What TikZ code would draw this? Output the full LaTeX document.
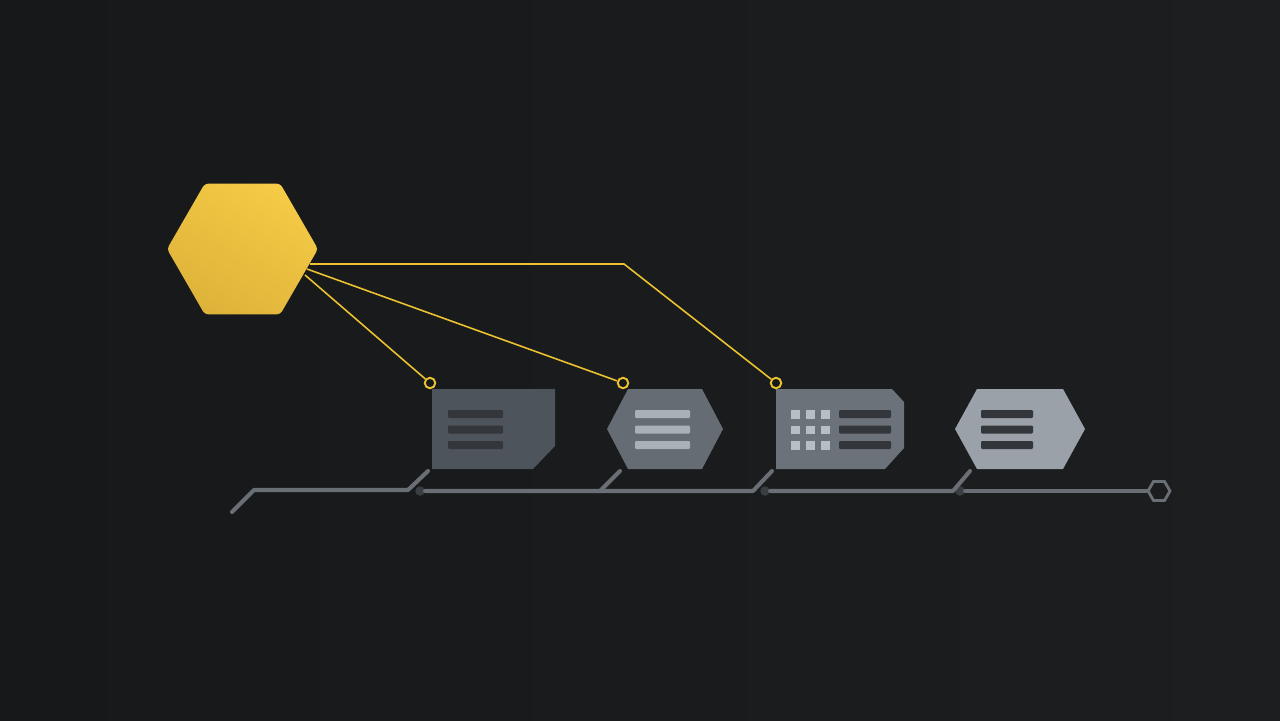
\documentclass[tikz,border=0pt]{standalone}
\usetikzlibrary{shapes.geometric}
\definecolor{bgdark}{HTML}{17181A}
\definecolor{bgright}{HTML}{1D1E20}
\definecolor{hubtop}{HTML}{F5CA45}
\definecolor{hubbot}{HTML}{DEB33A}
\definecolor{wirey}{HTML}{EBC22F}
\definecolor{trackgray}{HTML}{6A6F76}
\definecolor{dotgray}{HTML}{3A3D42}
\definecolor{cardA}{HTML}{4E545B}
\definecolor{cardB}{HTML}{666C73}
\definecolor{cardC}{HTML}{6C7279}
\definecolor{cardD}{HTML}{9AA1A9}
\definecolor{bardark}{HTML}{33363A}
\definecolor{barlight}{HTML}{A9B0B8}
\definecolor{cellight}{HTML}{B8BEC6}
\tikzset{hub/.style = {regular polygon, regular polygon sides=6, minimum size=3.02cm, inner sep=0,
                       rounded corners=2pt, top color=hubtop, bottom color=hubbot, shading angle=-30}}
\tikzset{wire/.style = {wirey, line width=0.9pt}}
\tikzset{pin/.style = {circle, draw=wirey, fill=bgdark, line width=1.1pt, inner sep=0, minimum size=0.21cm}}
\tikzset{track/.style = {trackgray, line width=2.3pt, line cap=round, line join=round}}
\tikzset{joint/.style = {circle, fill=dotgray, inner sep=0, minimum size=0.19cm}}
\tikzset{bar/.style = {rounded corners=0.6pt}}

\begin{document}
\begin{tikzpicture}[x=0.02cm, y=-0.02cm]
	\shade[left color=bgdark, right color=bgright] (0,0) rectangle (1280,720);
	\useasboundingbox (0,0) rectangle (1280,720);

	\node[hub] (hub) at (242.5,249) {};
	\coordinate (w1) at (310,264);
	\coordinate (w2) at (307,269);
	\coordinate (w3) at (305,275);
	\coordinate (bend) at (624,264);

	\fill[cardA] (432,389) -- (555,389) -- (555,446) -- (533,469) -- (432,469) -- cycle;
	\fill[cardB] (628,389) -- (702,389) -- (723,429) -- (702,469) -- (628,469) -- (607,429) -- cycle;
	\fill[cardC] (776,389) -- (892,389) -- (904,402) -- (904,448) -- (885,469) -- (776,469) -- cycle;
	\fill[cardD] (977,389) -- (1063,389) -- (1085,429) -- (1063,469) -- (977,469) -- (955,429) -- cycle;

	\foreach \y in {410,425.5,441} {
		\fill[bardark, bar] (448,\y) rectangle (503,\y+8);
		\fill[barlight, bar] (635,\y) rectangle (690,\y+8);
		\fill[bardark, bar] (839,\y) rectangle (891,\y+8);
		\fill[bardark, bar] (981,\y) rectangle (1033,\y+8);
		\foreach \x in {791,806,821}
			\fill[cellight] (\x,\y) rectangle (\x+9,\y+8.5);
	}

	\node[pin] (p1) at (430,383) {};
	\node[pin] (p2) at (623,383) {};
	\node[pin] (p3) at (776,383) {};
	\draw[wire] (w1) -- (bend) -- (p3);
	\draw[wire] (w2) -- (p2);
	\draw[wire] (w3) -- (p1);

	\node[joint] (j1) at (420,491) {};
	\node[joint] (j2) at (765,491) {};
	\node[joint] (j3) at (960,491) {};
	\node[regular polygon, regular polygon sides=6, minimum size=0.44cm, inner sep=0,
	      draw=trackgray, line width=1.6pt] (tail) at (1159,491) {};
	\coordinate (t1) at (428,471);
	\coordinate (t2) at (620,471);
	\coordinate (t3) at (772,471);
	\coordinate (t4) at (970,471);

	\draw[track] (232,512) -- (254,490) -- (408,490) -- (t1);
	\draw[track] (j1) -- (753,491) -- (t3);
	\draw[track] (600,491) -- (t2);
	\draw[track] (j2) -- (953,491) -- (t4);
	\draw[track] (j3) -- (tail);
\end{tikzpicture}
\end{document}
